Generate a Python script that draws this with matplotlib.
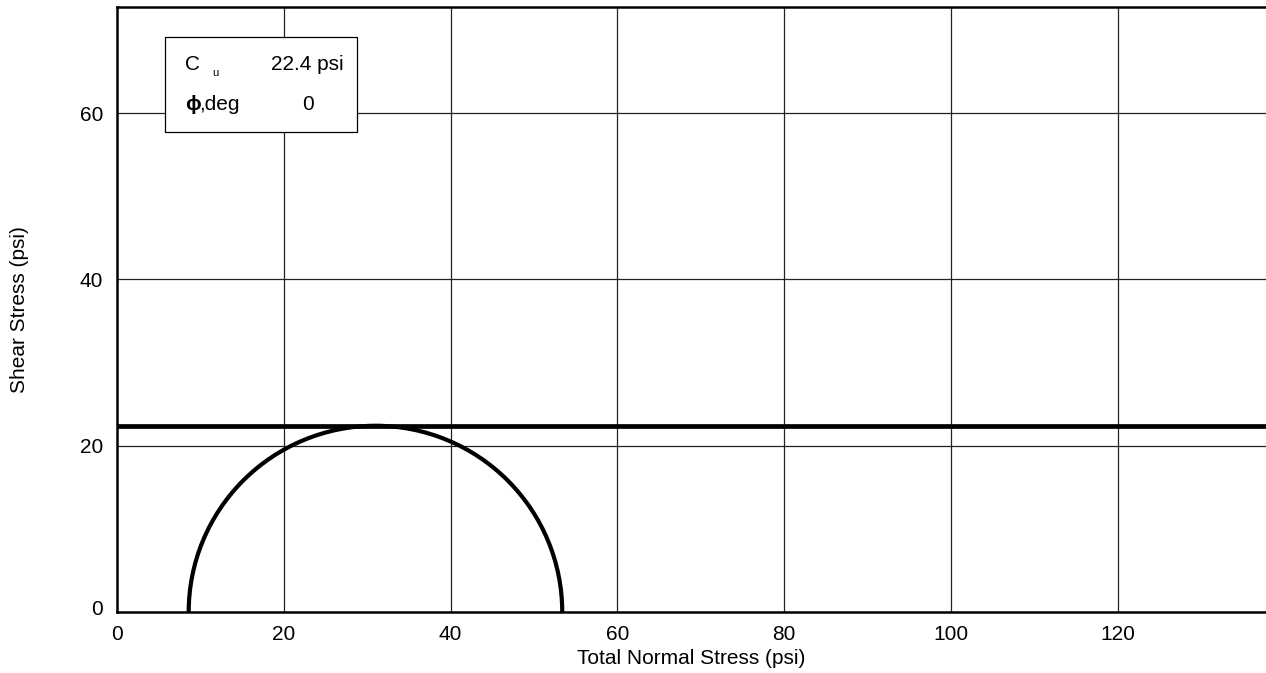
import matplotlib.pyplot as plt
from matplotlib.patches import Arc, Rectangle
from matplotlib.transforms import ScaledTranslation

plt.rcParams["font.family"] = ["Liberation Sans", "DejaVu Sans"]

# Mohr circle data (total stresses, psi)
sigma_3 = 8.6
sigma_1 = 53.4
cu = 22.4          # undrained shear strength, psi
phi_deg = 0

x_ticks = [0, 20, 40, 60, 80, 100, 120]
y_ticks = [0, 20, 40, 60]
x_max = 137.8
y_max = 72.7

fs = 15

fig = plt.figure(figsize=(12.66, 6.73), dpi=100)
ax = fig.add_axes([0.0924, 0.0906, 0.9076, 0.8983])

ax.set_xlim(0, x_max)
ax.set_ylim(0, y_max)

# grid
for gx in x_ticks[1:]:
    ax.axvline(gx, color="#222222", lw=0.9, zorder=1)
for gy in y_ticks[1:]:
    ax.axhline(gy, color="#222222", lw=0.9, zorder=1)

# failure envelope (phi = 0)
ax.axhline(cu, color="black", lw=3.4, zorder=3)

# Mohr circle
center = (sigma_1 + sigma_3) / 2
diameter = sigma_1 - sigma_3
ax.add_patch(Arc((center, 0), diameter, diameter, theta1=0, theta2=180,
                 color="black", lw=3.0, zorder=4, clip_on=False))

ax.set_xticks(x_ticks)
ax.set_yticks(y_ticks)
ax.tick_params(axis="x", length=0, labelsize=fs, pad=9)
ax.tick_params(axis="y", length=0, labelsize=fs, pad=10)
ax.set_xlabel("Total Normal Stress (psi)", fontsize=fs, labelpad=4)
ax.set_ylabel("Shear Stress (psi)", fontsize=fs)
ax.yaxis.set_label_coords(-0.0765, 0.5)

# lift the "0" y label a little
lbl0 = ax.get_yticklabels()[0]
lbl0.set_transform(lbl0.get_transform() + ScaledTranslation(0, 5 / 100, fig.dpi_scale_trans))

for s in ["left", "bottom", "top"]:
    ax.spines[s].set_linewidth(1.8)
ax.spines["right"].set_visible(False)

# parameter box
box = Rectangle((165 / 1266, 1 - 131.7 / 673), (357 - 165) / 1266, (131.7 - 37.3) / 673,
                transform=fig.transFigure, facecolor="white", edgecolor="black",
                lw=0.9, zorder=5)
fig.patches.append(box)
tkw = dict(va="center", zorder=6)
fig.text(185 / 1266, 1 - 65 / 673, "C", fontsize=fs, ha="left", **tkw)
fig.text(212 / 1266, 1 - 73 / 673, "u", fontsize=8, ha="left", **tkw)
fig.text(344 / 1266, 1 - 65 / 673, f"{cu} psi", fontsize=fs, ha="right", **tkw)
fig.text(185 / 1266, 1 - 105 / 673, "ϕ", fontsize=fs, fontweight="bold", ha="left", **tkw)
fig.text(199 / 1266, 1 - 105 / 673, ",deg", fontsize=fs, ha="left", **tkw)
fig.text(308 / 1266, 1 - 105 / 673, f"{phi_deg}", fontsize=fs, ha="center", **tkw)

fig.savefig("out.png", dpi=100)
